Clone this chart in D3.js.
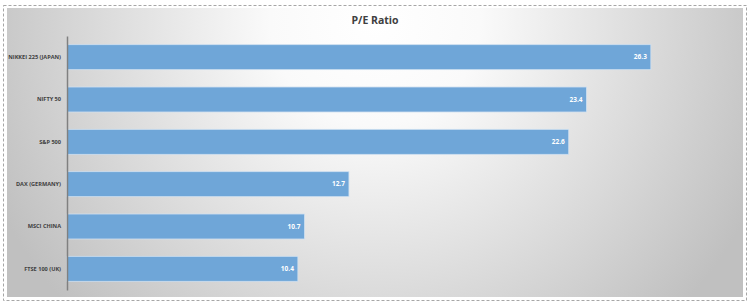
<!DOCTYPE html>
<html><head><meta charset="utf-8">
<script src="https://cdn.jsdelivr.net/npm/d3@7"></script>
<style>body{margin:0;background:#fff}svg{display:block}</style>
</head><body>
<script>
const categories = ["NIKKEI 225 (JAPAN)", "NIFTY 50", "S&P 500", "DAX (GERMANY)", "MSCI CHINA", "FTSE 100 (UK)"];
const values = [26.3, 23.4, 22.6, 12.7, 10.7, 10.4];
const title = "P/E Ratio";

const W = 750, H = 307;
const svg = d3.select("body").append("svg").attr("width", W).attr("height", H);
const defs = svg.append("defs");
const grad = defs.append("radialGradient").attr("id", "bg")
  .attr("gradientUnits", "userSpaceOnUse")
  .attr("cx", 375).attr("cy", 20).attr("r", 420);
grad.append("stop").attr("offset", 0).attr("stop-color", "#ffffff");
grad.append("stop").attr("offset", 0.25).attr("stop-color", "#fafafa");
grad.append("stop").attr("offset", 1).attr("stop-color", "#c0c0c0");

svg.append("rect").attr("x", 3.5).attr("y", 5.5).attr("width", 743).attr("height", 295)
  .attr("fill", "#fff").attr("stroke", "#a6a6a6").attr("stroke-dasharray", "3,2");
svg.append("rect").attr("x", 7).attr("y", 8).attr("width", 736).attr("height", 289)
  .attr("fill", "url(#bg)");

svg.append("text").attr("x", 375).attr("y", 24).attr("text-anchor", "middle")
  .attr("font-family", "Open Sans, sans-serif").attr("font-weight", "bold")
  .attr("font-size", 10.5).attr("fill", "#404040").text(title);

const x = d3.scaleLinear().domain([0, 30]).range([67, 733]);
const y = d3.scaleBand().domain(categories).range([36, 290]).paddingInner(0.41).paddingOuter(0.205);

svg.selectAll("rect.bar").data(values).enter().append("rect").attr("class", "bar")
  .attr("x", x(0)).attr("y", (d, i) => y(categories[i]))
  .attr("width", d => x(d) - x(0)).attr("height", y.bandwidth())
  .attr("fill", "#6fa6d8").attr("stroke", "#cfe0f0").attr("stroke-width", 0.8);

svg.selectAll("text.val").data(values).enter().append("text").attr("class", "val")
  .attr("x", d => x(d) - 4).attr("y", (d, i) => y(categories[i]) + y.bandwidth() / 2)
  .attr("dy", "0.35em").attr("text-anchor", "end")
  .attr("font-family", "Open Sans, sans-serif").attr("font-weight", "bold")
  .attr("font-size", 6.5).attr("fill", "#ffffff").text(d => d.toFixed(1));

const yAxis = d3.axisLeft(y).tickSize(0).tickPadding(6);
const ga = svg.append("g").attr("transform", `translate(${x(0)},0)`).call(yAxis);
ga.select(".domain").attr("stroke", "#808080").attr("stroke-width", 1.5);
ga.selectAll("text").attr("font-family", "Open Sans, sans-serif").attr("font-weight", "bold")
  .attr("font-size", 5.6).attr("fill", "#404040");
</script>
</body></html>
